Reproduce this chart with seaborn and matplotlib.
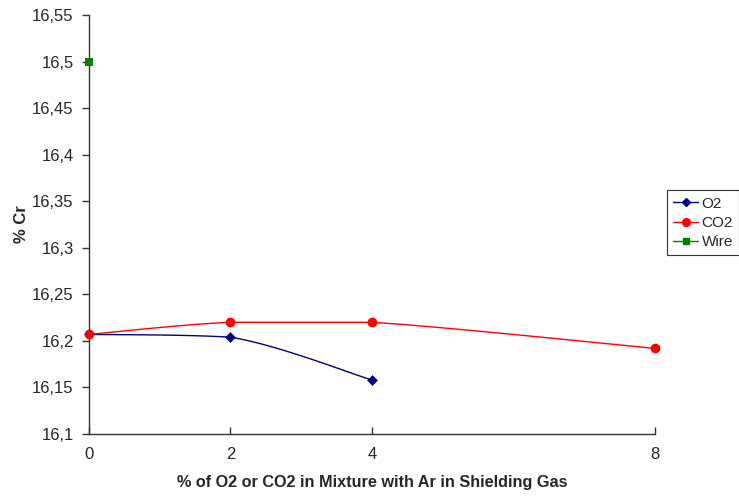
import numpy as np
import pandas as pd
import matplotlib
matplotlib.use("Agg")
import matplotlib.pyplot as plt
from matplotlib.lines import Line2D
from matplotlib.ticker import FuncFormatter
import seaborn as sns

# data
o2_x = [0, 2, 4]
o2_y = [16.207, 16.204, 16.158]
co2_x = [0, 2, 4, 8]
co2_y = [16.207, 16.220, 16.220, 16.192]
wire_x = [0]
wire_y = [16.5]
x_ticks = [0, 2, 4, 8]
y_ticks = [16.1, 16.15, 16.2, 16.25, 16.3, 16.35, 16.4, 16.45, 16.5, 16.55]


def smooth(xs, ys, n=40):
    # Excel-like smoothed line (bezier through the points, no overshoot)
    p = np.column_stack([xs, ys]).astype(float)
    out = []
    for i in range(len(p) - 1):
        p0 = p[i - 1] if i > 0 else p[i]
        p1, p2 = p[i], p[i + 1]
        p3 = p[i + 2] if i + 2 < len(p) else p[i + 1]
        c1 = p1 + (p2 - p0) / 6
        c2 = p2 - (p3 - p1) / 6
        lo, hi = min(p1[1], p2[1]), max(p1[1], p2[1])
        c1[1] = np.clip(c1[1], lo, hi)
        c2[1] = np.clip(c2[1], lo, hi)
        t = np.linspace(0, 1, n)[:, None]
        seg = ((1 - t) ** 3) * p1 + 3 * ((1 - t) ** 2) * t * c1 + 3 * (1 - t) * t ** 2 * c2 + t ** 3 * p2
        out.append(seg)
    s = np.vstack(out)
    return pd.DataFrame({"x": s[:, 0], "y": s[:, 1]})


sns.set_style("white")
plt.rcParams["font.family"] = ["Liberation Sans", "DejaVu Sans"]

fig = plt.figure(figsize=(7.39, 5.01), dpi=100)
ax = fig.add_axes([0.1204, 0.1337, 0.7659, 0.8363])

series = [
    ("O2", o2_x, o2_y, "#000080", "D", 5.5),
    ("CO2", co2_x, co2_y, "#FF0000", "o", 7),
    ("Wire", wire_x, wire_y, "#008000", "s", 6),
]

handles = []
for name, xs, ys, col, mk, ms in series:
    if len(xs) > 1:
        sm = smooth(xs, ys)
        sns.lineplot(data=sm, x="x", y="y", ax=ax, color=col, lw=1, sort=False,
                     estimator=None, legend=False)
    pts = pd.DataFrame({"x": xs, "y": ys})
    sns.scatterplot(data=pts, x="x", y="y", ax=ax, color=col, marker=mk,
                    s=ms ** 2, edgecolor=col, linewidth=0, zorder=5, legend=False,
                    clip_on=False)
    handles.append(Line2D([0], [0], color=col, lw=1, marker=mk, markersize=ms * 0.8,
                          label=name))

ax.set_xlim(0, 8)
ax.set_ylim(16.1, 16.55)
ax.set_xticks(x_ticks)
ax.set_yticks(y_ticks)
ax.yaxis.set_major_formatter(FuncFormatter(lambda v, p: ("%g" % round(v, 2)).replace(".", ",")))

for s in ["top", "right"]:
    ax.spines[s].set_visible(False)
for s in ["left", "bottom"]:
    ax.spines[s].set_color("#333333")
    ax.spines[s].set_linewidth(1)

ax.tick_params(axis="y", direction="out", length=5, width=1, color="#333333",
               labelsize=12, left=True, pad=6)
ax.tick_params(axis="x", direction="in", length=5, width=1, color="#333333",
               labelsize=12, bottom=True, pad=9)

ax.set_xlabel("% of O2 or CO2 in Mixture with Ar in Shielding Gas",
              fontsize=11.7, fontweight="bold", labelpad=10)
ax.set_ylabel("% Cr", fontsize=12, fontweight="bold", labelpad=2)

leg = fig.legend(handles=handles, loc="center left", bbox_to_anchor=(0.903, 0.555),
                 fontsize=11, frameon=True, fancybox=False, edgecolor="black",
                 handlelength=1.6, borderpad=0.4, labelspacing=0.35, handletextpad=0.25,
                 borderaxespad=0)
leg.get_frame().set_linewidth(0.8)

fig.savefig("out.png", dpi=100)
